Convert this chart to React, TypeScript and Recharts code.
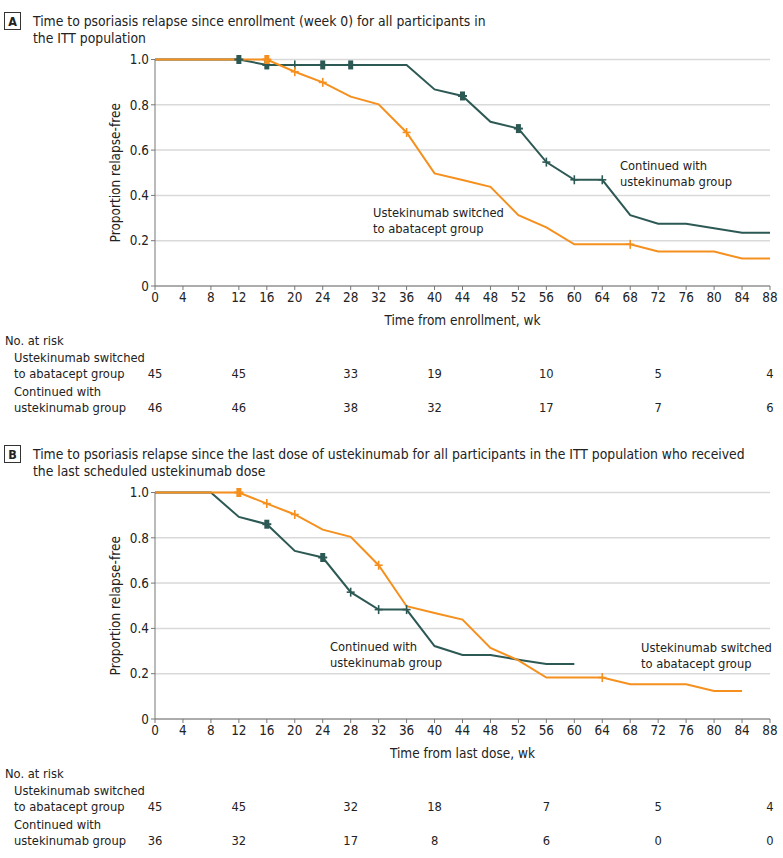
import { LineChart, Line, XAxis, YAxis, CartesianGrid } from 'recharts';

// weeks on the x axis, one point every 4 weeks
const weeks = [0, 4, 8, 12, 16, 20, 24, 28, 32, 36, 40, 44, 48, 52, 56, 60, 64, 68, 72, 76, 80, 84, 88];
const yTicks = [0, 0.2, 0.4, 0.6, 0.8, 1.0];

// Panel A: since enrollment
const aSwitched = [1, 1, 1, 1, 1, 0.946, 0.899, 0.836, 0.802, 0.678, 0.497, 0.468, 0.438, 0.313, 0.259, 0.184, 0.184, 0.184, 0.152, 0.152, 0.152, 0.121, 0.121];
const aContinued = [1, 1, 1, 1, 0.976, 0.976, 0.976, 0.976, 0.976, 0.976, 0.868, 0.839, 0.725, 0.695, 0.547, 0.469, 0.469, 0.313, 0.275, 0.275, 0.255, 0.235, 0.235];
const aSwitchedCensored = [16, 20, 24, 36, 68];
const aContinuedCensored = [12, 16, 20, 24, 28, 44, 52, 56, 60, 64];
const aMultiCensored = { switched: [16], continued: [12, 16, 24, 28, 44, 52] };

// Panel B: since last ustekinumab dose
const bSwitched = [1, 1, 1, 1, 0.951, 0.903, 0.836, 0.804, 0.679, 0.498, 0.468, 0.439, 0.314, 0.259, 0.183, 0.183, 0.183, 0.153, 0.153, 0.153, 0.124, 0.124, null];
const bContinued = [1, 1, 1, 0.892, 0.86, 0.742, 0.713, 0.56, 0.483, 0.483, 0.322, 0.283, 0.283, 0.262, 0.243, 0.243, null, null, null, null, null, null, null];
const bSwitchedCensored = [12, 16, 20, 32, 64];
const bContinuedCensored = [16, 24, 28, 32, 36];
const bMultiCensored = { switched: [12], continued: [16, 24] };

// numbers at risk
const riskWeeks = [0, 12, 28, 40, 56, 72, 88];
const aRiskSwitched = [45, 45, 33, 19, 10, 5, 4];
const aRiskContinued = [46, 46, 38, 32, 17, 7, 6];
const bRiskSwitched = [45, 45, 32, 18, 7, 5, 4];
const bRiskContinued = [36, 32, 17, 8, 6, 0, 0];

const ORANGE = '#F5901E';
const GREEN = '#2D5955';
const INK = '#222';
const FONT = "'Liberation Sans Narrow', 'DejaVu Sans Condensed', 'Roboto', sans-serif";
const TITLE_SIZE = 13.8;
const LABEL_SIZE = 13.5;
const TEXT_SIZE = 12.8;
const TICK_SIZE = 13.4;

const W = 783;
const PANEL_H = 433;
const PLOT_LEFT = 155;
const PLOT_RIGHT = 770;
const PLOT_TOP = 59.5;
const PLOT_BOTTOM = 286;
const xOf = (wk: number) => PLOT_LEFT + (wk / 88) * (PLOT_RIGHT - PLOT_LEFT);

const buildRows = (
  sw: (number | null)[],
  co: (number | null)[],
  swC: number[],
  coC: number[],
  multi: { switched: number[]; continued: number[] }
) =>
  weeks.map((wk, i) => ({
    week: wk,
    switched: sw[i],
    continued: co[i],
    switchedCensor: swC.includes(wk) ? (multi.switched.includes(wk) ? 2 : 1) : 0,
    continuedCensor: coC.includes(wk) ? (multi.continued.includes(wk) ? 2 : 1) : 0,
  }));

const censorDot = (color: string) => (props: any) => {
  const { cx, cy, payload, dataKey, index } = props;
  const count = payload[`${dataKey}Censor`];
  if (!count || cx == null || cy == null) return <g key={`d-${dataKey}-${index}`} />;
  if (count > 1) {
    return (
      <g key={`d-${dataKey}-${index}`}>
        <rect x={cx - 2.5} y={cy - 4.5} width={5} height={9} fill={color} />
        <line x1={cx - 4.5} x2={cx + 4.5} y1={cy} y2={cy} stroke={color} strokeWidth={2} />
      </g>
    );
  }
  return (
    <g key={`d-${dataKey}-${index}`}>
      <line x1={cx} x2={cx} y1={cy - 4.5} y2={cy + 4.5} stroke={color} strokeWidth={1.6} />
      <line x1={cx - 4} x2={cx + 4} y1={cy} y2={cy} stroke={color} strokeWidth={1.6} />
    </g>
  );
};

type Note = { x: number; y: number; lines: string[] };

type PanelProps = {
  letter: string;
  title: string[];
  xLabel: string;
  rows: ReturnType<typeof buildRows>;
  notes: Note[];
  riskSwitched: number[];
  riskContinued: number[];
};

const Panel = ({ letter, title, xLabel, rows, notes, riskSwitched, riskContinued }: PanelProps) => {
  const tickStyle = { fontSize: TICK_SIZE, fill: INK, fontFamily: FONT };
  const midY = (PLOT_TOP + PLOT_BOTTOM) / 2;
  return (
    <div style={{ position: 'relative', width: W, height: PANEL_H }}>
      <LineChart
        width={W}
        height={330}
        data={rows}
        margin={{ top: PLOT_TOP, right: W - PLOT_RIGHT, bottom: 4, left: 0 }}
      >
        <CartesianGrid horizontal vertical={false} stroke="#d9d9d9" strokeWidth={1.5} />
        <XAxis
          dataKey="week"
          type="number"
          domain={[0, 88]}
          ticks={weeks}
          interval={0}
          height={40}
          tickSize={4}
          tick={tickStyle}
          stroke="#777"
        />
        <YAxis
          type="number"
          domain={[0, 1]}
          ticks={yTicks}
          width={PLOT_LEFT}
          tickSize={4}
          tick={tickStyle}
          tickFormatter={(v: number) => (v === 0 ? '0' : v.toFixed(1))}
          stroke="#777"
        />
        <Line
          type="linear"
          dataKey="continued"
          stroke={GREEN}
          strokeWidth={2}
          dot={censorDot(GREEN)}
          activeDot={false}
          isAnimationActive={false}
        />
        <Line
          type="linear"
          dataKey="switched"
          stroke={ORANGE}
          strokeWidth={2}
          dot={censorDot(ORANGE)}
          activeDot={false}
          isAnimationActive={false}
        />
      </LineChart>
      <svg
        width={W}
        height={PANEL_H}
        style={{ position: 'absolute', left: 0, top: 0, pointerEvents: 'none', fontFamily: FONT }}
      >
        <rect x={4.5} y={12.5} width={16} height={17} fill="none" stroke="#333" strokeWidth={1} />
        <text x={12.5} y={21.5} textAnchor="middle" dominantBaseline="central" fontSize={12.5} fontWeight="bold" fill={INK}>
          {letter}
        </text>
        {title.map((t, i) => (
          <text key={t} x={33} y={21 + i * 17} dominantBaseline="central" fontSize={TITLE_SIZE} fill={INK}>
            {t}
          </text>
        ))}
        <text
          x={115}
          y={midY}
          transform={`rotate(-90 115 ${midY})`}
          textAnchor="middle"
          dominantBaseline="central"
          fontSize={LABEL_SIZE}
          fill={INK}
        >
          Proportion relapse-free
        </text>
        <text x={(PLOT_LEFT + PLOT_RIGHT) / 2} y={320} textAnchor="middle" dominantBaseline="central" fontSize={LABEL_SIZE} fill={INK}>
          {xLabel}
        </text>
        {notes.map((n) =>
          n.lines.map((l, i) => (
            <text key={l} x={n.x} y={n.y + i * 16} dominantBaseline="central" fontSize={TEXT_SIZE} fill={INK}>
              {l}
            </text>
          ))
        )}
        <text x={5} y={340} dominantBaseline="central" fontSize={TEXT_SIZE} fill={INK}>No. at risk</text>
        <text x={14} y={357.5} dominantBaseline="central" fontSize={TEXT_SIZE} fill={INK}>Ustekinumab switched</text>
        <text x={14} y={373.5} dominantBaseline="central" fontSize={TEXT_SIZE} fill={INK}>to abatacept group</text>
        <text x={14} y={391.5} dominantBaseline="central" fontSize={TEXT_SIZE} fill={INK}>Continued with</text>
        <text x={14} y={407} dominantBaseline="central" fontSize={TEXT_SIZE} fill={INK}>ustekinumab group</text>
        {riskWeeks.map((wk, i) => (
          <g key={`r-${wk}`}>
            <text x={xOf(wk)} y={373.5} textAnchor="middle" dominantBaseline="central" fontSize={TEXT_SIZE} fill={INK}>
              {riskSwitched[i]}
            </text>
            <text x={xOf(wk)} y={407} textAnchor="middle" dominantBaseline="central" fontSize={TEXT_SIZE} fill={INK}>
              {riskContinued[i]}
            </text>
          </g>
        ))}
      </svg>
    </div>
  );
};

const App = () => {
  const rowsA = buildRows(aSwitched, aContinued, aSwitchedCensored, aContinuedCensored, aMultiCensored);
  const rowsB = buildRows(bSwitched, bContinued, bSwitchedCensored, bContinuedCensored, bMultiCensored);
  return (
    <div style={{ position: 'absolute', left: 0, top: 0, width: W, height: 858, background: '#fff', fontFamily: FONT }}>
      <Panel
        letter="A"
        title={[
          'Time to psoriasis relapse since enrollment (week 0) for all participants in',
          'the ITT population',
        ]}
        xLabel="Time from enrollment, wk"
        rows={rowsA}
        notes={[
          { x: 620, y: 165, lines: ['Continued with', 'ustekinumab group'] },
          { x: 373, y: 212, lines: ['Ustekinumab switched', 'to abatacept group'] },
        ]}
        riskSwitched={aRiskSwitched}
        riskContinued={aRiskContinued}
      />
      <Panel
        letter="B"
        title={[
          'Time to psoriasis relapse since the last dose of ustekinumab for all participants in the ITT population who received',
          'the last scheduled ustekinumab dose',
        ]}
        xLabel="Time from last dose, wk"
        rows={rowsB}
        notes={[
          { x: 330, y: 213, lines: ['Continued with', 'ustekinumab group'] },
          { x: 641, y: 214, lines: ['Ustekinumab switched', 'to abatacept group'] },
        ]}
        riskSwitched={bRiskSwitched}
        riskContinued={bRiskContinued}
      />
    </div>
  );
};

export default App;
